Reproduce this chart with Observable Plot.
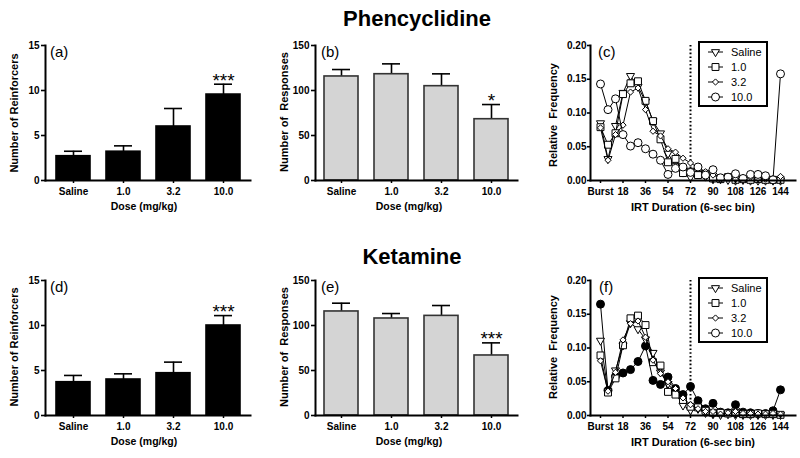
<!DOCTYPE html>
<html>
<head>
<meta charset="utf-8">
<script src="https://cdn.jsdelivr.net/npm/d3@7"></script>
<script src="https://cdn.jsdelivr.net/npm/@observablehq/plot@0.6"></script>
<style>
  body { margin: 0; background: #fff; }
  #root { position: relative; width: 800px; height: 458px; overflow: hidden; background: #fff; }
  #root svg { position: absolute; }
</style>
</head>
<body>
<div id="root"></div>
<script>
const FONT = "'Liberation Sans', Arial, Helvetica, sans-serif";

// ---------- Bar-panel data ----------
const doses = ["Saline", "1.0", "3.2", "10.0"];

const pcpReinfMean = [2.7, 3.2, 6.0, 9.55];
const pcpReinfSem  = [0.55, 0.65, 2.0, 1.15];
const pcpReinfSig  = ["", "", "", "***"];

const pcpRespMean = [115.6, 118.1, 104.8, 68.1];
const pcpRespSem  = [7.7, 11.5, 13.7, 16.3];
const pcpRespSig  = ["", "", "", "*"];

const ketReinfMean = [3.7, 4.0, 4.7, 10.0];
const ketReinfSem  = [0.75, 0.63, 1.23, 1.1];
const ketReinfSig  = ["", "", "", "***"];

const ketRespMean = [115.6, 107.8, 110.7, 66.7];
const ketRespSem  = [9.2, 5.5, 11.5, 14.0];
const ketRespSig  = ["", "", "", "***"];

const reinfTicks = [0, 5, 10, 15];
const respTicks  = [0, 50, 100, 150];

// ---------- IRT distribution data ----------
const irtBins = [0, 6, 12, 18, 24, 30, 36, 42, 48, 54, 60, 66, 72, 78, 84, 90, 96, 102, 108, 114, 120, 126, 132, 138, 144];
const irtTicks = [0, 18, 36, 54, 72, 90, 108, 126, 144];
const irtTickLabels = ["Burst", "18", "36", "54", "72", "90", "108", "126", "144"];
const freqTicks = [0, 0.05, 0.10, 0.15, 0.20];
const criterionBin = 72;
const seriesNames = ["Saline", "1.0", "3.2", "10.0"];

const pcpSaline = [0.085, 0.032, 0.081, 0.130, 0.155, 0.139, 0.117, 0.088, 0.070, 0.040, 0.022, 0.012, 0.005, 0.010, 0.006, 0.002, 0.002, 0.001, 0.000, 0.001, 0.000, 0.000, 0.000, 0.000, 0.000];
const pcp1      = [0.079, 0.053, 0.070, 0.128, 0.144, 0.147, 0.118, 0.088, 0.061, 0.027, 0.032, 0.011, 0.013, 0.008, 0.010, 0.003, 0.002, 0.005, 0.001, 0.002, 0.001, 0.002, 0.001, 0.001, 0.001];
const pcp32     = [0.078, 0.030, 0.068, 0.082, 0.131, 0.137, 0.105, 0.073, 0.066, 0.047, 0.042, 0.033, 0.026, 0.019, 0.013, 0.008, 0.004, 0.005, 0.002, 0.004, 0.005, 0.003, 0.002, 0.003, 0.006];
const pcp10     = [0.143, 0.105, 0.121, 0.068, 0.051, 0.056, 0.047, 0.039, 0.030, 0.009, 0.018, 0.020, 0.012, 0.020, 0.008, 0.016, 0.004, 0.005, 0.010, 0.003, 0.009, 0.009, 0.007, 0.001, 0.158];

const ketSaline = [0.111, 0.036, 0.067, 0.104, 0.137, 0.128, 0.113, 0.093, 0.064, 0.047, 0.033, 0.015, 0.008, 0.010, 0.004, 0.002, 0.001, 0.002, 0.001, 0.001, 0.001, 0.001, 0.001, 0.001, 0.001];
const ket1      = [0.089, 0.034, 0.055, 0.104, 0.144, 0.148, 0.134, 0.079, 0.074, 0.035, 0.031, 0.023, 0.013, 0.012, 0.007, 0.004, 0.004, 0.003, 0.004, 0.002, 0.002, 0.003, 0.002, 0.002, 0.001];
const ket32     = [0.081, 0.036, 0.064, 0.112, 0.136, 0.140, 0.116, 0.082, 0.062, 0.050, 0.040, 0.026, 0.016, 0.010, 0.006, 0.006, 0.002, 0.004, 0.006, 0.003, 0.003, 0.002, 0.002, 0.003, 0.002];
const ket10     = [0.165, 0.037, 0.058, 0.063, 0.068, 0.080, 0.103, 0.052, 0.046, 0.057, 0.040, 0.031, 0.043, 0.022, 0.010, 0.018, 0.005, 0.004, 0.016, 0.005, 0.004, 0.003, 0.003, 0.007, 0.038];

// ---------- helpers ----------
const root = document.getElementById("root");

const triDown = {
  draw(ctx, size) {
    const y = -Math.sqrt(size / (Math.sqrt(3) * 3));
    ctx.moveTo(0, -y * 2);
    ctx.lineTo(-Math.sqrt(3) * y, y);
    ctx.lineTo(Math.sqrt(3) * y, y);
    ctx.closePath();
  }
};
const diamondSym = d3.symbolDiamond2 || d3.symbolDiamond;

const baseStyle = {
  fontFamily: FONT, fontSize: "10px", fontWeight: "bold",
  color: "#000", background: "transparent", overflow: "visible"
};

function place(el, left, top) {
  el.style.position = "absolute";
  el.style.left = left + "px";
  el.style.top = top + "px";
  root.appendChild(el);
}

function barPanel({mean, sem, sig, yMax, ticks, fill, stroke, left, top, width, ml, mr}) {
  const data = doses.map((d, i) => ({dose: d, mean: mean[i], top: mean[i] + sem[i], sig: sig[i]}));
  const chart = Plot.plot({
    width, height: 180,
    marginLeft: ml, marginRight: mr, marginTop: 10, marginBottom: 35,
    style: baseStyle,
    x: {domain: doses, paddingInner: 0.32, paddingOuter: 0.18, label: null},
    y: {domain: [0, yMax], label: null},
    marks: [
      Plot.ruleX(data, {x: "dose", y1: "mean", y2: "top", stroke: "#000", strokeWidth: 1.6}),
      Plot.tickY(data, {x: "dose", y: "top", stroke: "#000", strokeWidth: 1.6, insetLeft: 8, insetRight: 8}),
      Plot.barY(data, {x: "dose", y: "mean", fill, stroke, strokeWidth: 1.6}),
      Plot.text(data, {x: "dose", y: "top", text: "sig", dy: -3.5, fontSize: 19, fontWeight: "normal", fill: "#000"}),
      Plot.axisY({ticks, tickSize: 4, tickPadding: 2, tickFormat: d => String(d), strokeWidth: 1.6, label: null}),
      Plot.axisX({tickSize: 3, tickPadding: 4, strokeWidth: 1.5, label: null}),
      Plot.frame({anchor: "left", stroke: "#000", strokeWidth: 2}),
      Plot.frame({anchor: "bottom", stroke: "#000", strokeWidth: 2})
    ]
  });
  place(chart, left, top);
}

function linePanel({series, left, top}) {
  const marks = [
    Plot.ruleX([criterionBin], {stroke: "#000", strokeWidth: 2, strokeDasharray: "1.6,2.2"})
  ];
  for (const s of series) {
    const data = irtBins.map((b, i) => ({bin: b, f: s.values[i]}));
    marks.push(Plot.line(data, {x: "bin", y: "f", stroke: "#000", strokeWidth: 1}));
    marks.push(Plot.dot(data, {x: "bin", y: "f", symbol: s.symbol, r: s.r, fill: s.fill, stroke: "#000", strokeWidth: 1}));
  }
  marks.push(
    Plot.axisY({ticks: freqTicks, tickSize: 3, tickPadding: 1, tickFormat: d3.format(".2f"), strokeWidth: 1.6, label: null}),
    Plot.axisX({ticks: irtTicks, tickSize: 3, tickPadding: 4, strokeWidth: 1.5,
      tickFormat: d => irtTickLabels[irtTicks.indexOf(d)], label: null}),
    Plot.frame({anchor: "left", stroke: "#000", strokeWidth: 2}),
    Plot.frame({anchor: "bottom", stroke: "#000", strokeWidth: 2})
  );
  const chart = Plot.plot({
    width: 270, height: 180,
    marginLeft: 60, marginRight: 5, marginTop: 10, marginBottom: 35,
    style: baseStyle,
    x: {domain: [-8, 156], label: null},
    y: {domain: [0, 0.2], label: null},
    marks
  });
  place(chart, left, top);
}

function legend(left, top, openLast) {
  const entries = [
    {name: seriesNames[0], sym: triDown, r: 3},
    {name: seriesNames[1], sym: d3.symbolSquare, r: 3.9},
    {name: seriesNames[2], sym: diamondSym, r: 2.8},
    {name: seriesNames[3], sym: d3.symbolCircle, r: 4}
  ];
  const w = 70, h = 66;
  const svg = d3.create("svg").attr("width", w).attr("height", h)
    .attr("font-family", FONT).attr("font-size", 11);
  svg.append("rect").attr("x", 1).attr("y", 1).attr("width", w - 2).attr("height", h - 2)
    .attr("fill", "#fff").attr("stroke", "#000").attr("stroke-width", 2);
  entries.forEach((e, i) => {
    const cy = 11 + i * 15;
    svg.append("line").attr("x1", 10).attr("x2", 25).attr("y1", cy).attr("y2", cy)
      .attr("stroke", "#000").attr("stroke-width", 1);
    svg.append("path").attr("transform", `translate(17.5,${cy})`)
      .attr("d", d3.symbol(e.sym, Math.PI * e.r * e.r)())
      .attr("fill", "#fff").attr("stroke", "#000").attr("stroke-width", 1);
    svg.append("text").attr("x", 33).attr("y", cy).attr("dy", "0.36em").attr("fill", "#000").text(e.name);
  });
  place(svg.node(), left, top);
}

// ---------- panels ----------
barPanel({mean: pcpReinfMean, sem: pcpReinfSem, sig: pcpReinfSig, yMax: 15, ticks: reinfTicks,
  fill: "#000", stroke: "#000", left: 0, top: 35, width: 258, ml: 45, mr: 8});
barPanel({mean: pcpRespMean, sem: pcpRespSem, sig: pcpRespSig, yMax: 150, ticks: respTicks,
  fill: "#d4d4d4", stroke: "#333", left: 265, top: 35, width: 260, ml: 50, mr: 8});
linePanel({left: 530, top: 35, series: [
  {values: pcpSaline, symbol: triDown, r: 3, fill: "#fff"},
  {values: pcp1, symbol: "square", r: 3.9, fill: "#fff"},
  {values: pcp32, symbol: "diamond2", r: 2.8, fill: "#fff"},
  {values: pcp10, symbol: "circle", r: 4, fill: "#fff"}
]});
legend(698, 41);

barPanel({mean: ketReinfMean, sem: ketReinfSem, sig: ketReinfSig, yMax: 15, ticks: reinfTicks,
  fill: "#000", stroke: "#000", left: 0, top: 270, width: 258, ml: 45, mr: 8});
barPanel({mean: ketRespMean, sem: ketRespSem, sig: ketRespSig, yMax: 150, ticks: respTicks,
  fill: "#d4d4d4", stroke: "#333", left: 265, top: 270, width: 260, ml: 50, mr: 8});
linePanel({left: 530, top: 270, series: [
  {values: ket10, symbol: "circle", r: 4, fill: "#000"},
  {values: ketSaline, symbol: triDown, r: 3, fill: "#fff"},
  {values: ket1, symbol: "square", r: 3.9, fill: "#fff"},
  {values: ket32, symbol: "diamond2", r: 2.8, fill: "#fff"}
]});
legend(698, 277);

// ---------- text overlay (titles, axis titles, panel letters) ----------
const texts = [
  {t: "Phencyclidine", x: 417, y: 26, size: 22, bold: true, anchor: "middle"},
  {t: "Ketamine", x: 412, y: 264, size: 22, bold: true, anchor: "middle"},
  {t: "(a)", x: 50, y: 57, size: 15}, {t: "(b)", x: 321, y: 57, size: 15}, {t: "(c)", x: 598, y: 57, size: 15},
  {t: "(d)", x: 50, y: 292, size: 15}, {t: "(e)", x: 321, y: 292, size: 15}, {t: "(f)", x: 599, y: 292, size: 15},
  {t: "Dose (mg/kg)", x: 144, y: 210, size: 10.5, bold: true, anchor: "middle"},
  {t: "Dose (mg/kg)", x: 409, y: 210, size: 10.5, bold: true, anchor: "middle"},
  {t: "IRT Duration (6-sec bin)", x: 693, y: 211, size: 11, bold: true, anchor: "middle"},
  {t: "Dose (mg/kg)", x: 144, y: 445, size: 10.5, bold: true, anchor: "middle"},
  {t: "Dose (mg/kg)", x: 409, y: 445, size: 10.5, bold: true, anchor: "middle"},
  {t: "IRT Duration (6-sec bin)", x: 693, y: 446, size: 11, bold: true, anchor: "middle"},
  {t: "Number of Reinforcers", x: 18, y: 113, size: 11, bold: true, anchor: "middle", rot: true},
  {t: "Number of  Responses", x: 288, y: 112, size: 11, bold: true, anchor: "middle", rot: true},
  {t: "Relative  Frequency", x: 557, y: 115, size: 11, bold: true, anchor: "middle", rot: true},
  {t: "Number of Reinforcers", x: 18, y: 347, size: 11, bold: true, anchor: "middle", rot: true},
  {t: "Number of  Responses", x: 288, y: 347, size: 11, bold: true, anchor: "middle", rot: true},
  {t: "Relative  Frequency", x: 557, y: 347, size: 11, bold: true, anchor: "middle", rot: true}
];
const overlay = d3.create("svg").attr("width", 800).attr("height", 458)
  .style("pointer-events", "none").attr("font-family", FONT);
for (const d of texts) {
  overlay.append("text")
    .attr("transform", d.rot ? `translate(${d.x},${d.y}) rotate(-90)` : `translate(${d.x},${d.y})`)
    .attr("text-anchor", d.anchor || "start")
    .attr("font-size", d.size)
    .attr("font-weight", d.bold ? "bold" : "normal")
    .attr("fill", "#000")
    .style("white-space", "pre")
    .text(d.t);
}
place(overlay.node(), 0, 0);
</script>
</body>
</html>
